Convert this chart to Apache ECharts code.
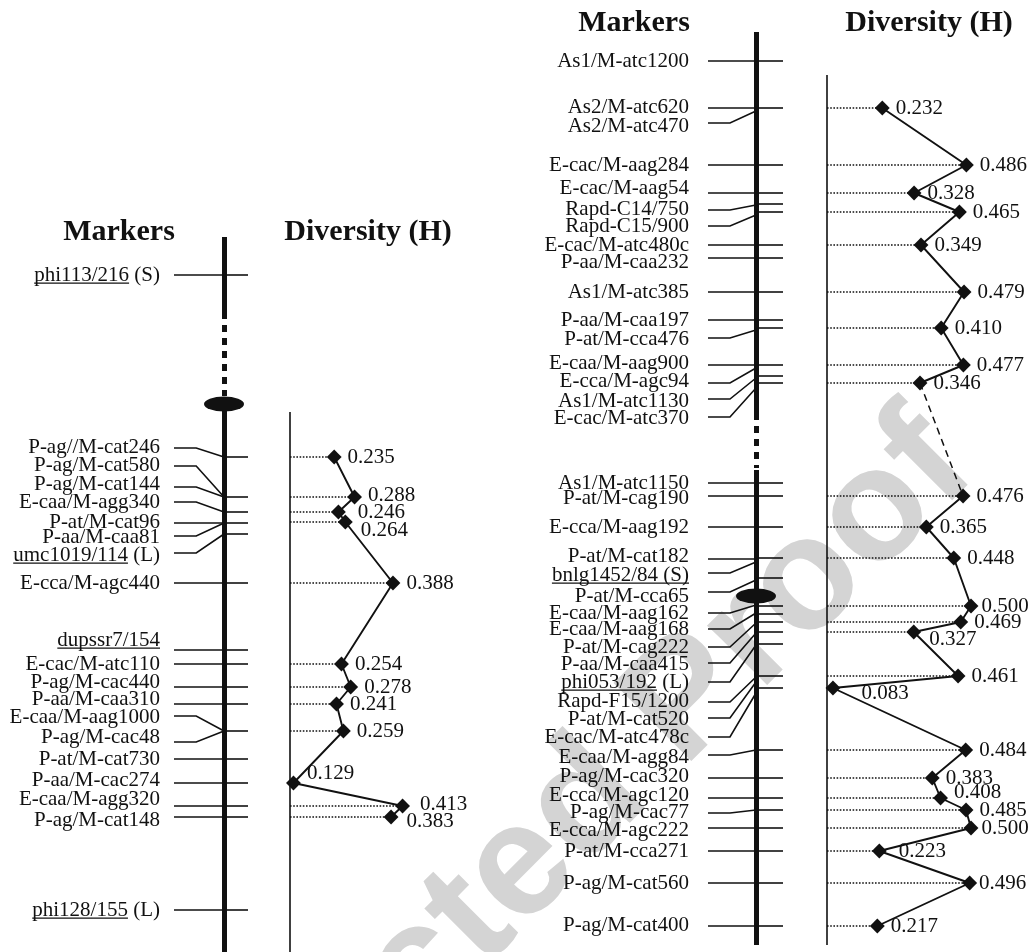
<!DOCTYPE html>
<html><head><meta charset="utf-8">
<script src="https://cdn.jsdelivr.net/npm/echarts@6/dist/echarts.min.js"></script>
<style>html,body{margin:0;padding:0;background:#fff}#c{width:1030px;height:952px}</style>
</head><body><div id="c"></div>
<script>
// ---------- DATA (positions along the map, top = 0) ----------
const leftNames = ['phi113/216 (S)','P-ag//M-cat246','P-ag/M-cat580','P-ag/M-cat144','E-caa/M-agg340','P-at/M-cat96','P-aa/M-caa81','umc1019/114 (L)','E-cca/M-agc440','dupssr7/154','E-cac/M-atc110','P-ag/M-cac440','P-aa/M-caa310','E-caa/M-aag1000','P-ag/M-cac48','P-at/M-cat730','P-aa/M-cac274','E-caa/M-agg320','P-ag/M-cat148','phi128/155 (L)'];
const leftUnderline = ['phi113/216','','','','','','','umc1019/114','','dupssr7/154','','','','','','','','','','phi128/155'];
const leftTextPos = [275,447,465,484,502,522,537,555,583,640,664,682,699,717,737,759,780,799,820,910];
const leftLinePos = [275,448,466,487,502,523,536,553,583,650,664,687,704,716,742,759,783,806,817,910];
const leftJoinPos = [275,457,497,497,512,523,523,534,583,650,664,687,704,731,731,759,783,806,817,910];
const leftTickPos = [275,457,497,512,523,534,583,650,664,687,704,731,759,783,806,817,910];
const leftMapSolid = [[237,312],[404,952]];
const leftMapDashed = [[312,396]];
const leftCentromere = 404;
const leftDivAxis = [412,952];
const leftDivPos = [457,497,512,522,583,664,687,704,731,783,806,817];
const leftDivH = [0.235,0.288,0.246,0.264,0.388,0.254,0.278,0.241,0.259,0.129,0.413,0.383];

const rightNames = ['As1/M-atc1200','As2/M-atc620','As2/M-atc470','E-cac/M-aag284','E-cac/M-aag54','Rapd-C14/750','Rapd-C15/900','E-cac/M-atc480c','P-aa/M-caa232','As1/M-atc385','P-aa/M-caa197','P-at/M-cca476','E-caa/M-aag900','E-cca/M-agc94','As1/M-atc1130','E-cac/M-atc370','As1/M-atc1150','P-at/M-cag190','E-cca/M-aag192','P-at/M-cat182','bnlg1452/84 (S)','P-at/M-cca65','E-caa/M-aag162','E-caa/M-aag168','P-at/M-cag222','P-aa/M-caa415','phi053/192 (L)','Rapd-F15/1200','P-at/M-cat520','E-cac/M-atc478c','E-caa/M-agg84','P-ag/M-cac320','E-cca/M-agc120','P-ag/M-cac77','E-cca/M-agc222','P-at/M-cca271','P-ag/M-cat560','P-ag/M-cat400'];
const rightUnderline = ['','','','','','','','','','','','','','','','','','','','','bnlg1452/84 (S)','','','','','','phi053/192','','','','','','','','','','',''];
const rightTextPos = [61,107,126,165,188,209,226,245,262,292,320,339,363,381,401,418,483,498,527,556,575,596,613,629,647,664,682,701,719,737,757,776,795,812,830,851,883,925];
const rightLinePos = [61,108,123,165,193,210,226,245,258,292,320,338,365,383,399,417,483,496,527,559,573,592,613,629,647,663,682,702,718,737,755,778,798,813,828,851,883,926];
const rightJoinPos = [61,108,111,165,193,205,215,245,258,292,320,330,365,368,378,388,483,496,527,559,562,580,605,613,623,633,645,677,682,693,750,778,798,810,828,851,883,926];
const rightTickPos = [61,108,165,193,204,212,245,258,292,320,328,365,376,383,483,496,527,558,578,606,614,622,632,644,676,688,750,778,798,810,828,851,883,926];
const rightMapSolid = [[32,413],[470,945]];
const rightMapDashed = [[413,468]];
const rightCentromere = 596;
const rightDivAxis = [75,945];
const rightDivPosA = [108,165,193,212,245,292,328,365,383];
const rightDivHA = [0.232,0.486,0.328,0.465,0.349,0.479,0.410,0.477,0.346];
const rightDivPosB = [496,527,558,606,622,632,676,688,750,778,798,810,828,851,883,926];
const rightDivHB = [0.476,0.365,0.448,0.500,0.469,0.327,0.461,0.083,0.484,0.383,0.408,0.485,0.500,0.223,0.496,0.217];

// ---------- STYLE / LAYOUT ----------
const INK = '#111';
const SERIF = '"Liberation Serif","Times New Roman",serif';
const LABEL_FONT = '21px ' + SERIF;
const ctx = document.createElement('canvas').getContext('2d');
ctx.font = LABEL_FONT;
const measure = s => ctx.measureText(s).width;

const panels = [
  { names: leftNames, underline: leftUnderline, textPos: leftTextPos, linePos: leftLinePos, joinPos: leftJoinPos,
    ticks: leftTickPos, solid: leftMapSolid, dashed: leftMapDashed, centromere: leftCentromere, axis: leftDivAxis,
    groups: [[leftDivPos, leftDivH]], link: false,
    nudges: [{1:[0,-2],2:[6,0],3:[2,8],9:[0,-10],10:[4,-2],11:[2,4]}],
    mGrid: {left:174, width:74}, bend: 0.30, map: 0.676, gap: 14,
    dGrid: {left:290, width:146}, hMin: 0.12, hMax: 0.5,
    headers: [['Markers',119,232],['Diversity (H)',368,232]] },
  { names: rightNames, underline: rightUnderline, textPos: rightTextPos, linePos: rightLinePos, joinPos: rightJoinPos,
    ticks: rightTickPos, solid: rightMapSolid, dashed: rightMapDashed, centromere: rightCentromere, axis: rightDivAxis,
    groups: [[rightDivPosA, rightDivHA],[rightDivPosB, rightDivHB]], link: true,
    nudges: [{}, {3:[-3,0],5:[2,7],7:[15,5],10:[0,-6],12:[-3,0],13:[6,0],14:[-4,0]}],
    mGrid: {left:708, width:75}, bend: 0.293, map: 0.64, gap: 19,
    dGrid: {left:827, width:144}, hMin: 0.065, hMax: 0.5,
    headers: [['Markers',634,23],['Diversity (H)',929,23]] }
];

const grid = [], xAxis = [], yAxis = [], series = [], graphic = [];
const yAx = () => ({ type:'value', min:0, max:952, inverse:true, show:false });

panels.forEach((P, k) => {
  const mi = 2*k, di = 2*k+1;
  grid.push({ left:P.mGrid.left, width:P.mGrid.width, top:0, height:952 });
  grid.push({ left:P.dGrid.left, width:P.dGrid.width, top:0, height:952 });
  xAxis.push({ type:'value', gridIndex:mi, min:0, max:1, show:false });
  xAxis.push({ type:'value', gridIndex:di, min:P.hMin, max:P.hMax, show:false });
  yAxis.push(Object.assign(yAx(), {gridIndex:mi}));
  yAxis.push(Object.assign(yAx(), {gridIndex:di}));
  const L = (extra) => Object.assign({ type:'lines', coordinateSystem:'cartesian2d', silent:true, clip:false, animation:false }, extra);

  // chromosome
  series.push(L({ xAxisIndex:mi, yAxisIndex:mi, z:3,
    data: P.solid.map(s => ({coords:[[P.map,s[0]],[P.map,s[1]]]})),
    lineStyle:{ color:INK, width:5, opacity:1, cap:'butt' } }));
  series.push(L({ xAxisIndex:mi, yAxisIndex:mi, z:3,
    data: P.dashed.map(s => ({coords:[[P.map,s[0]],[P.map,s[1]]]})),
    lineStyle:{ color:INK, width:5, opacity:1, type:[7,6], cap:'butt' } }));
  series.push({ type:'scatter', xAxisIndex:mi, yAxisIndex:mi, silent:true, z:4, animation:false,
    symbol:'circle', symbolSize:[40,15], itemStyle:{color:INK, opacity:1}, data:[[P.map, P.centromere]] });
  // connectors
  series.push(L({ xAxisIndex:mi, yAxisIndex:mi, z:3, polyline:true,
    data: P.names.map((n,i) => ({ coords: P.linePos[i] === P.joinPos[i]
      ? [[0,P.linePos[i]],[P.map,P.joinPos[i]]]
      : [[0,P.linePos[i]],[P.bend,P.linePos[i]],[P.map,P.joinPos[i]]] })),
    lineStyle:{ color:INK, width:1.6, opacity:1 } }));
  // ticks
  series.push(L({ xAxisIndex:mi, yAxisIndex:mi, z:3,
    data: P.ticks.map(t => ({coords:[[P.map,t],[1,t]]})),
    lineStyle:{ color:INK, width:1.6, opacity:1 } }));
  // labels
  series.push({ type:'custom', xAxisIndex:mi, yAxisIndex:mi, silent:true, clip:false, z:5, animation:false,
    data: P.names.map((n,i) => [0, P.textPos[i], i]),
    renderItem: (params, api) => {
      const i = api.value(2);
      const pt = api.coord([api.value(0), api.value(1)]);
      const name = P.names[i];
      const xr = pt[0] - P.gap;
      const ch = [{ type:'text', style:{ text:name, x:xr, y:pt[1], align:'right', verticalAlign:'middle', font:LABEL_FONT, fill:INK } }];
      const u = P.underline[i];
      if (u) {
        const x0 = xr - measure(name);
        ch.push({ type:'rect', shape:{ x:x0, y:pt[1]+7.5, width:measure(u), height:1.2 }, style:{ fill:INK } });
      }
      return { type:'group', children:ch };
    } });

  // diversity axis
  series.push(L({ xAxisIndex:di, yAxisIndex:di, z:2,
    data:[{coords:[[P.hMin,P.axis[0]],[P.hMin,P.axis[1]]]}],
    lineStyle:{ color:INK, width:1.6, opacity:1 } }));
  P.groups.forEach((g, gi) => {
    const pos = g[0], hs = g[1];
    series.push(L({ xAxisIndex:di, yAxisIndex:di, z:2,
      data: hs.map((h,i) => ({coords:[[P.hMin,pos[i]],[h,pos[i]]]})),
      lineStyle:{ color:INK, width:1.6, opacity:1, type:[1.6,1.6] } }));
    const nud = P.nudges[gi] || {};
    series.push({ type:'line', xAxisIndex:di, yAxisIndex:di, z:4, clip:false, animation:false, silent:true,
      symbol:'rect', symbolRotate:45, symbolSize:10.5,
      itemStyle:{ color:INK, opacity:1 }, lineStyle:{ color:INK, width:1.9 },
      label:{ show:true, position:'right', distance:6, color:INK, fontFamily:SERIF, fontSize:21,
        formatter: p => p.value[0].toFixed(3) },
      data: hs.map((h,i) => nud[i] ? { value:[h,pos[i]], label:{ offset:nud[i] } } : { value:[h,pos[i]] }) });
  });
  if (P.link) {
    const a = P.groups[0], b = P.groups[1];
    series.push({ type:'line', xAxisIndex:di, yAxisIndex:di, z:3, clip:false, animation:false, silent:true,
      symbol:'none', lineStyle:{ color:INK, width:1.5, type:[7,5] },
      data:[[a[1][a[1].length-1], a[0][a[0].length-1]], [b[1][0], b[0][0]]] });
  }
  P.headers.forEach(h => graphic.push({ type:'text', z:10, x:h[1], y:h[2],
    style:{ text:h[0], align:'center', verticalAlign:'middle', font:'bold 30px ' + SERIF, fill:INK } }));
});

// watermark
graphic.push({ type:'text', z:-10, x:948, y:442, rotation:Math.PI/4,
  style:{ text:'Uncorrected Proof', align:'right', verticalAlign:'middle', font:'bold 160px "Liberation Sans",Arial,sans-serif', fill:'#d4d4d4' } });

const chart = echarts.init(document.getElementById('c'), null, { renderer:'canvas' });
chart.setOption({ backgroundColor:'#fff', animation:false, grid, xAxis, yAxis, series, graphic });
</script></body></html>
